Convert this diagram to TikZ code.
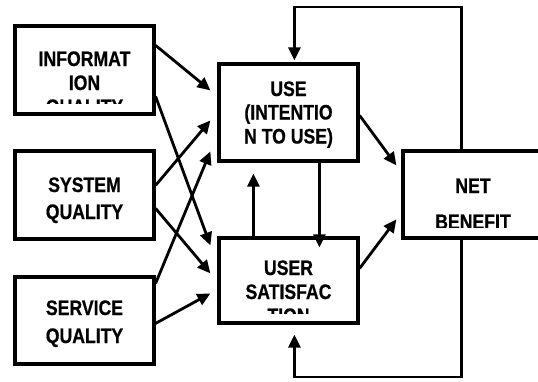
\documentclass[tikz,border=0pt]{standalone}
\usepackage{fontspec}
\newfontfamily\lblfont{Liberation Sans}[FakeStretch=0.84,FakeBold=0.6]
\usetikzlibrary{arrows.meta}
\begin{document}
\begin{tikzpicture}[x=1pt,y=-1pt,
  box/.style={draw,line width=3.2pt,rectangle,inner sep=0pt,minimum width=139pt},
  lbl/.style={anchor=base,inner sep=0pt,font=\lblfont\bfseries\fontsize{21}{24}\selectfont},
  arr/.style={line width=2.8pt,-{Triangle[length=13pt,width=12pt]}}]
\useasboundingbox (0,0) rectangle (538,381);
% boxes
\node[box,minimum height=88pt] (info) at (84.5,70) {};
\node[box,minimum height=88pt] (sys) at (84.5,195) {};
\node[box,minimum height=87pt] (serv) at (84.5,320.5) {};
\node[box,minimum height=97pt] (use) at (288.5,112.5) {};
\node[box,minimum height=85pt] (user) at (288.5,280.5) {};
\node[box,minimum width=140pt,minimum height=87pt] (net) at (473,194.5) {};
% texts
\begin{scope}
\clip (17,28) rectangle (152,103.5);
\node[lbl] (ti1) at (84.5,66) {INFORMAT};
\node[lbl] (ti2) at (84.5,90) {ION};
\node[lbl] (ti3) at (84.5,114) {QUALITY};
\end{scope}
\node[lbl] (ts1) at (84.5,192) {SYSTEM};
\node[lbl] (ts2) at (84.5,219) {QUALITY};
\node[lbl] (tv1) at (84.5,315) {SERVICE};
\node[lbl] (tv2) at (84.5,343) {QUALITY};
\node[lbl] (tu1) at (288.5,96) {USE};
\node[lbl] (tu2) at (288.5,119.5) {(INTENTIO};
\node[lbl] (tu3) at (288.5,143.5) {N TO USE)};
\begin{scope}
\clip (221,240) rectangle (356,313);
\node[lbl] (tr1) at (288.5,275) {USER};
\node[lbl] (tr2) at (288.5,299) {SATISFAC};
\node[lbl] (tr3) at (288.5,323) {TION};
\end{scope}
\begin{scope}
\clip (405,153) rectangle (538,227);
\node[lbl] (tn1) at (473,193) {NET};
\node[lbl] (tn2) at (473,229) {BENEFIT};
\end{scope}
% helper coordinates
\coordinate (ttop) at (380,7);
\coordinate (tbot) at (380,377);
% arrows from left boxes
\draw[arr] ([yshift=-21pt]info.north east) -- ([xshift=-7pt,yshift=-28pt]use.north west);
\draw[arr] ([yshift=-72pt]info.north east) -- ([xshift=-7pt,yshift=-9pt]user.north west);
\draw[arr] ([yshift=-36pt]sys.north east) -- ([xshift=-7pt,yshift=-58pt]use.north west);
\draw[arr] ([yshift=-59pt]sys.north east) -- ([xshift=-7pt,yshift=-37pt]user.north west);
\draw[arr] ([yshift=-8pt]serv.north east) -- ([xshift=-7pt,yshift=-89pt]use.north west);
\draw[arr] ([yshift=-48pt]serv.north east) -- ([xshift=-7pt,yshift=-57pt]user.north west);
% middle arrows
\draw[arr] ([yshift=-53pt]use.north east) -- ([xshift=-5pt,yshift=-16pt]net.north west);
\draw[arr] ([yshift=-32pt]user.north east) -- ([xshift=-5pt,yshift=-70pt]net.north west);
\draw[arr] ([xshift=102pt]use.south west) -- ([xshift=102pt,yshift=-11pt]user.north west);
\draw[arr] ([xshift=36pt]user.north west) -- ([xshift=36pt,yshift=-11pt]use.south west);
% feedback loops
\draw[arr] ([xshift=60pt]net.north west) |- (ttop) -| ([xshift=77pt,yshift=2pt]use.north west);
\draw[arr] ([xshift=60pt]net.south west) |- (tbot) -| ([xshift=77pt,yshift=-10pt]user.south west);
\end{tikzpicture}
\end{document}
